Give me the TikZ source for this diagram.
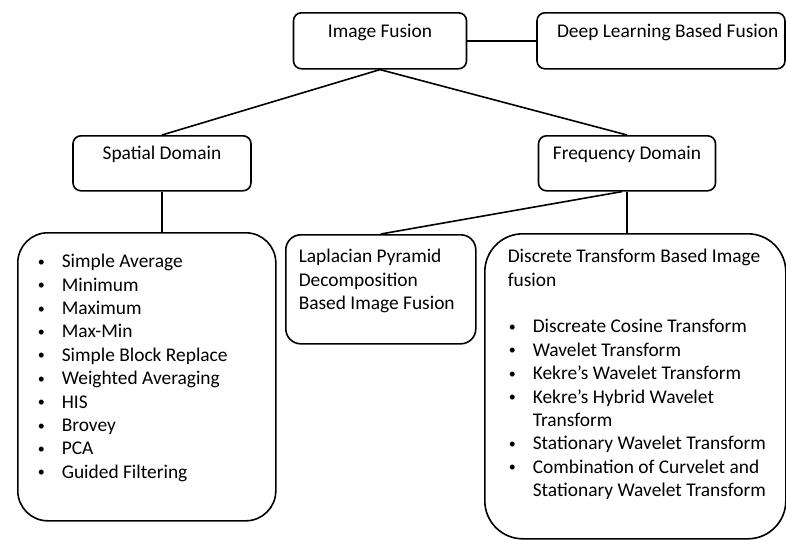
\documentclass[tikz,border=0pt]{standalone}
\usepackage{fontspec}
\setmainfont{Carlito}
\usetikzlibrary{positioning}
\tikzset{block/.style =
   {rectangle,
    draw,
    line width=1.6pt,
    rounded corners=8pt,
    inner sep=0pt,
    text centered,
    text height=25pt,
    text depth=31pt,
    anchor=north}}
\tikzset{listblock/.style =
   {rectangle,
    draw,
    line width=1.6pt,
    inner sep=0pt,
    anchor=north west}}
\tikzset{link/.style = {draw, line width=1.6pt}}
\newcommand{\bulletmark}{\makebox[24pt][l]{\raisebox{1.5pt}{\fontsize{14}{14}\selectfont\textbullet}}}
\newcommand{\nobulletmark}{\makebox[24pt][l]{}}

\begin{document}
\begin{tikzpicture}[x=1pt, y=-1pt,
                    font=\fontsize{19.4}{23.4}\selectfont]

    \useasboundingbox (0,0) rectangle (786,539);

    % top level
    \node [block, minimum width=173pt] (fusion) at (380,12) {Image Fusion};
    \node [block, minimum width=248pt] (deep) at (661,12)
    {\makebox[248pt][l]{\hspace{20pt}Deep Learning Based Fusion}};

    % domains
    \node [block, minimum width=178pt, text height=24pt] (spatial) at (162,135)
    {Spatial Domain};
    \node [block, minimum width=177pt, text height=24pt] (frequency) at (627,135)
    {Frequency Domain};

    % methods
    \node [listblock, rounded corners=30pt] (spatiallist) at (17,232)
    {\begin{minipage}[t][288pt][t]{258pt}
     \vspace*{18.6pt}\hspace*{20pt}%
     \begin{tabular}[t]{@{}l@{}}
      \bulletmark Simple Average\\
      \bulletmark Minimum\\
      \bulletmark Maximum\\
      \bulletmark Max-Min\\
      \bulletmark Simple Block Replace\\
      \bulletmark Weighted Averaging\\
      \bulletmark HIS\\
      \bulletmark Brovey\\
      \bulletmark PCA\\
      \bulletmark Guided Filtering
     \end{tabular}
     \end{minipage}};

    \node [listblock, rounded corners=15pt] (laplacian) at (285,234)
    {\begin{minipage}[t][109pt][t]{190pt}
     \vspace*{11.6pt}\hspace*{13pt}%
     \begin{tabular}[t]{@{}l@{}}
      Laplacian Pyramid\\
      Decomposition\\
      Based Image Fusion
     \end{tabular}
     \end{minipage}};

    \node [listblock, rounded corners=38pt] (discrete) at (484,233)
    {\begin{minipage}[t][305pt][t]{301pt}
     \vspace*{12.6pt}\hspace*{23pt}%
     \begin{tabular}[t]{@{\hspace{1pt}}l@{}}
      \multicolumn{1}{@{}l@{}}{Discrete Transform Based Image}\\
      \multicolumn{1}{@{}l@{}}{fusion}\\
      \\
      \bulletmark Discreate Cosine Transform\\
      \bulletmark Wavelet Transform\\
      \bulletmark Kekre’s Wavelet Transform\\
      \bulletmark Kekre’s Hybrid Wavelet\\
      \nobulletmark Transform\\
      \bulletmark Stationary Wavelet Transform\\
      \bulletmark Combination of Curvelet and\\
      \nobulletmark Stationary Wavelet Transform
     \end{tabular}
     \end{minipage}};

    % connectors
    \path [link] (fusion.east) -- (deep.west);
    \path [link] (fusion.south) -- (spatial.north);
    \path [link] (fusion.south) -- (frequency.north);
    \path [link] (spatial.south) -- (spatial.south |- spatiallist.north);
    \path [link] ([xshift=-5pt]frequency.south) -- (laplacian.north);
    \path [link] (frequency.south) -- (frequency.south |- discrete.north);

\end{tikzpicture}
\end{document}
